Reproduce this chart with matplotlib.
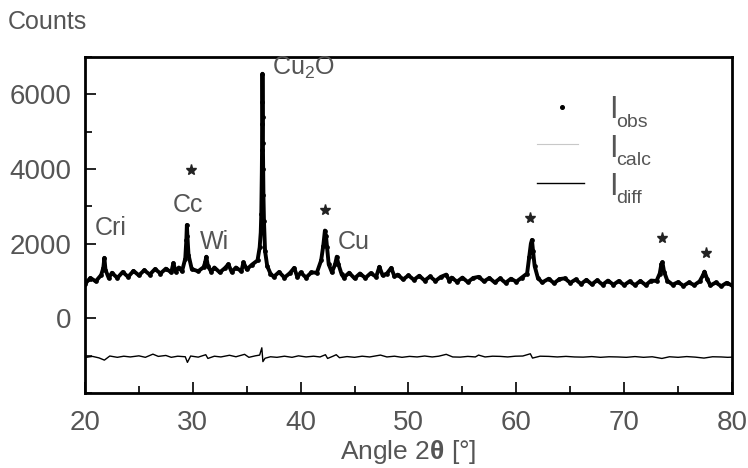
import matplotlib
matplotlib.use('Agg')
import matplotlib.pyplot as plt
from matplotlib.ticker import MultipleLocator

plt.rcParams['font.family'] = ['Liberation Sans', 'DejaVu Sans']
plt.rcParams['mathtext.fontset'] = 'custom'
plt.rcParams['mathtext.rm'] = 'Liberation Sans'
plt.rcParams['mathtext.bf'] = 'Liberation Sans:bold'

TXT = '#555555'

obs_2theta = [20.0, 20.5, 21.0, 21.5, 21.7, 21.8, 21.9, 22.2, 22.5, 23.0, 23.5, 24.0,
              24.5, 25.0, 25.5, 26.0, 26.5, 27.0, 27.5, 28.0, 28.2, 28.4, 28.7, 29.0,
              29.3, 29.4, 29.45, 29.5, 29.6, 29.9, 30.5, 31.0, 31.15, 31.25, 31.4, 31.7,
              32.0, 32.5, 33.0, 33.3, 33.6, 34.0, 34.5, 34.7, 35.0, 35.5, 36.0, 36.2,
              36.3, 36.35, 36.38, 36.4, 36.42, 36.44, 36.45, 36.46, 36.48, 36.5, 36.52,
              36.55, 36.6, 36.7, 36.9, 37.2, 37.5, 38.0, 38.5, 39.0, 39.4, 39.7, 40.0,
              40.5, 41.0, 41.5, 41.9, 42.1, 42.25, 42.35, 42.45, 42.6, 42.9, 43.2,
              43.35, 43.5, 43.8, 44.0, 44.5, 45.0, 45.5, 46.0, 46.5, 47.0, 47.3, 47.6,
              48.0, 48.4, 48.7, 49.0, 49.5, 50.0, 50.5, 51.0, 51.5, 52.0, 52.5, 53.0,
              53.5, 53.8, 54.0, 54.5, 55.0, 55.5, 56.0, 56.5, 57.0, 57.5, 58.0, 58.5,
              59.0, 59.5, 60.0, 60.5, 61.0, 61.2, 61.35, 61.45, 61.55, 61.7, 62.0,
              62.4, 63.0, 63.5, 64.0, 64.5, 65.0, 65.5, 66.0, 66.5, 67.0, 67.5, 68.0,
              68.5, 69.0, 69.5, 70.0, 70.5, 71.0, 71.5, 72.0, 72.5, 73.0, 73.3, 73.45,
              73.55, 73.7, 74.0, 74.5, 75.0, 75.5, 76.0, 76.5, 77.0, 77.3, 77.45, 77.7,
              78.0, 78.5, 79.0, 79.5, 80.0]
obs_counts = [920, 1080, 990, 1160, 1350, 1620, 1300, 1080, 1220, 1080, 1240, 1110,
              1270, 1150, 1290, 1170, 1320, 1200, 1330, 1230, 1480, 1250, 1360, 1260,
              1600, 2100, 2500, 2200, 1700, 1320, 1260, 1370, 1500, 1650, 1400, 1250,
              1360, 1230, 1350, 1450, 1240, 1360, 1260, 1500, 1310, 1440, 1550, 1900,
              2300, 2800, 3400, 3900, 4500, 5200, 5800, 6550, 5400, 4700, 4000,
              3300, 2600, 1800, 1400, 1200, 1110, 1240, 1090, 1210, 1350, 1100, 1230,
              1090, 1230, 1220, 1550, 1950, 2350, 2200, 1900, 1450, 1230, 1450,
              1650, 1450, 1180, 1090, 1220, 1070, 1200, 1080, 1210, 1110, 1380, 1150,
              1200, 1350, 1120, 1170, 1040, 1150, 1030, 1140, 1010, 1120, 1000, 1110,
              1170, 1000, 1090, 980, 1090, 970, 1080, 1110, 990, 1080, 960, 1070,
              950, 1060, 980, 1090, 1200, 1650, 2000, 2100, 1800, 1400, 1080,
              960, 1060, 940, 1050, 1070, 950, 1040, 920, 1030, 910, 1020, 900,
              1010, 900, 1000, 890, 990, 890, 1000, 890, 1010, 1000, 1200, 1450,
              1500, 1250, 1010, 900, 970, 870, 960, 890, 990, 1150, 1250, 1050,
              880, 960, 860, 950, 880]

# difference curve (offset below zero)
diff_2theta = [20.0, 20.7, 21.3, 21.8, 22.3, 23.0, 23.6, 24.2, 25.0, 25.6, 26.3, 26.8,
               27.5, 28.0, 28.6, 29.3, 29.5, 29.8, 30.5, 31.2, 31.4, 32.0, 32.6, 33.4,
               34.0, 34.8, 35.2, 35.8, 36.2, 36.4, 36.5, 36.7, 37.2, 37.8, 38.5, 39.2,
               39.8, 40.5, 41.2, 41.8, 42.3, 42.5, 43.0, 43.3, 43.6, 44.3, 45.0, 45.7,
               46.4, 47.4, 48.0, 48.7, 49.4, 50.1, 50.8, 51.5, 52.2, 52.8, 53.5, 54.1,
               54.8, 55.5, 56.2, 56.5, 57.1, 57.8, 58.5, 59.2, 59.9, 60.6, 61.3, 61.5,
               62.2, 63.0, 63.8, 64.6, 65.4, 66.2, 67.0, 67.8, 68.6, 69.4, 70.2, 71.0,
               71.8, 72.6, 73.5, 74.2, 75.0, 75.8, 76.6, 77.4, 78.2, 79.0, 79.6, 80.0]
diff_counts = [-1050, -1020, -1060, -1120, -1010, -1045, -1015, -1035, -1005, -1045, -960, -1020,
               -995, -1045, -1015, -1030, -1180, -1010, -1040, -975, -1075, -1015, -1035, -990,
               -1030, -965, -1045, -1005, -985, -790, -1160, -1070, -1030, -1045, -1015, -1045,
               -1005, -1035, -1015, -1035, -975, -1075, -1015, -975, -1055, -1025, -1045, -1015,
               -1035, -985, -1035, -1015, -1045, -1020, -1035, -1010, -1035, -1015, -965, -1035,
               -1040, -1020, -1035, -985, -1035, -1015, -1020, -1035, -1015, -1010, -950, -1065,
               -1015, -1020, -1035, -1020, -1035, -1040, -1025, -1045, -1030, -1035, -1045, -1025,
               -1045, -1030, -1075, -1030, -1045, -1025, -1040, -1065, -1030, -1035, -1045, -1040]

# reflexions marked with a star
star_2theta = [29.8, 42.3, 61.3, 73.5, 77.6]
star_counts = [3970, 2900, 2690, 2150, 1750]

# phase labels
phase_names = ['Cri', 'Cc', 'Wi', r'Cu$_\mathregular{2}$O', 'Cu']
phase_2theta = [20.9, 28.1, 30.7, 37.35, 43.4]
phase_counts = [2420, 3030, 2040, 6710, 2040]

fig = plt.figure(figsize=(7.48, 4.68), dpi=100)
ax = fig.add_axes([0.1136, 0.1603, 0.865, 0.718])

# I_calc sits under the observed points, I_obs as a dense dotted band
ax.plot(obs_2theta, obs_counts, color='#c8c8c8', lw=0.8, zorder=2)
ax.plot(obs_2theta, obs_counts, color='black', lw=2.8, solid_joinstyle='round', zorder=3)
ax.plot(obs_2theta, obs_counts, ls='none', marker='o', ms=2.4, color='black', zorder=4)
ax.plot(diff_2theta, diff_counts, color='black', lw=1.0, zorder=3)
ax.plot(star_2theta, star_counts, ls='none', marker='*', ms=8, color='#222222')

for name, x, y in zip(phase_names, phase_2theta, phase_counts):
    ax.text(x, y, name, fontsize=18, color=TXT, va='center', ha='left')

# legend drawn by hand like the original
ax.plot([64.25], [5660], ls='none', marker='o', ms=2.6, color='black')
ax.plot([61.9, 65.7], [4670, 4670], color='#c8c8c8', lw=0.8)
ax.plot([61.9, 66.3], [3620, 3620], color='black', lw=1.0)
for y_i, y_sub, sub in [(5366, 5124, 'obs'), (4321, 4107, 'calc'), (3303, 3088, 'diff')]:
    ax.text(68.6, y_i, 'I', fontsize=22, color=TXT, va='baseline', ha='left')
    ax.text(69.25, y_sub, sub, fontsize=14, color=TXT, va='baseline', ha='left')

ax.set_xlim(20, 80)
ax.set_ylim(-2000, 7000)
ax.xaxis.set_major_locator(MultipleLocator(10))
ax.xaxis.set_minor_locator(MultipleLocator(5))
ax.yaxis.set_major_locator(MultipleLocator(2000))
ax.yaxis.set_minor_locator(MultipleLocator(1000))
ax.tick_params(which='both', direction='in', width=1.2, labelsize=20, labelcolor=TXT)
ax.tick_params(axis='x', pad=12)
ax.tick_params(axis='y', pad=10)
ax.tick_params(which='major', length=8)
ax.tick_params(which='minor', length=5)
ax.set_yticks([0, 2000, 4000, 6000])
for s in ax.spines.values():
    s.set_linewidth(2)

ax.set_xlabel(r'Angle 2$\mathbf{\theta}$ [$\degree$]', fontsize=19, color=TXT, labelpad=2)
fig.text(0.011, 0.953, 'Counts', fontsize=18, color=TXT, va='center', ha='left')

fig.savefig('out.png', dpi=100)
